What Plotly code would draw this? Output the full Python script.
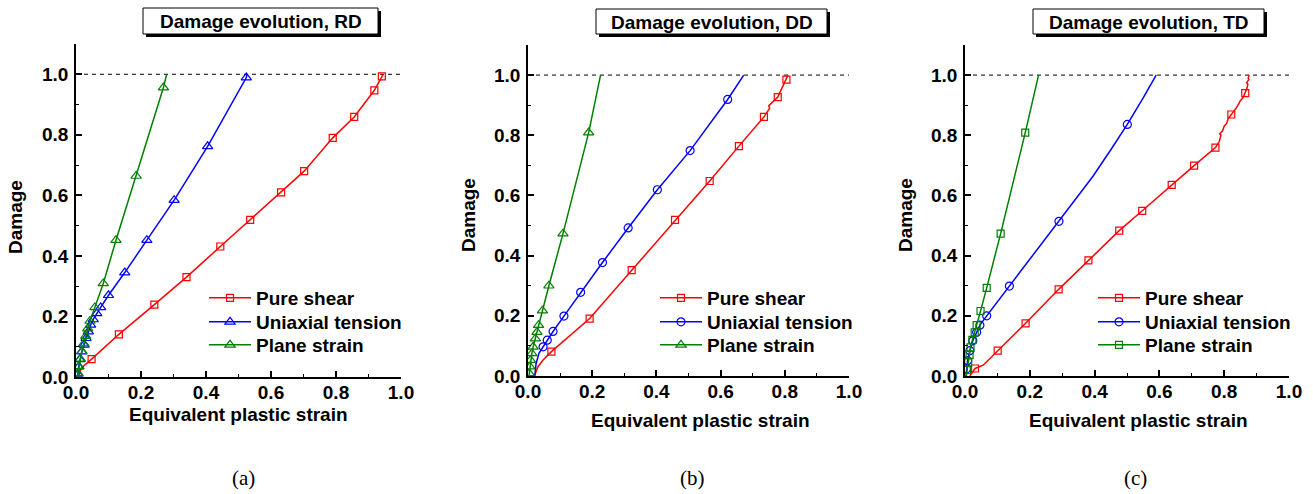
import plotly.graph_objects as go

W, H = 1313, 494

# ---------------- DATA ----------------
PANEL_TITLES = ["Damage evolution, RD", "Damage evolution, DD", "Damage evolution, TD"]
PANEL_CAPTIONS = ["(a)", "(b)", "(c)"]
SERIES_NAMES = ["Pure shear", "Uniaxial tension", "Plane strain"]
X_TICKS = [0.0, 0.2, 0.4, 0.6, 0.8, 1.0]
Y_TICKS = [0.0, 0.2, 0.4, 0.6, 0.8, 1.0]
FAILURE_DAMAGE = 1.0

# RD panel
RD_SHEAR_LX = [0.010, 0.015, 0.048, 0.132, 0.241, 0.340, 0.444, 0.536, 0.631, 0.702, 0.790, 0.856, 0.918, 0.941, 0.945]
RD_SHEAR_LY = [0.005, 0.028, 0.059, 0.141, 0.239, 0.330, 0.431, 0.519, 0.610, 0.680, 0.790, 0.859, 0.947, 0.993, 1.000]
RD_SHEAR_MX = [0.048, 0.132, 0.241, 0.340, 0.444, 0.536, 0.631, 0.702, 0.790, 0.856, 0.918, 0.941]
RD_SHEAR_MY = [0.059, 0.141, 0.239, 0.330, 0.431, 0.519, 0.610, 0.680, 0.790, 0.859, 0.947, 0.993]

RD_UNI_LX = [0.004, 0.006, 0.008, 0.012, 0.018, 0.025, 0.031, 0.038, 0.045, 0.053, 0.064, 0.076, 0.100, 0.150, 0.218, 0.302, 0.405, 0.524, 0.526]
RD_UNI_LY = [0.000, 0.010, 0.034, 0.058, 0.084, 0.106, 0.128, 0.150, 0.172, 0.190, 0.210, 0.230, 0.270, 0.345, 0.452, 0.584, 0.762, 0.989, 1.000]
RD_UNI_MX = [0.006, 0.008, 0.012, 0.018, 0.025, 0.031, 0.038, 0.045, 0.053, 0.064, 0.076, 0.100, 0.150, 0.218, 0.302, 0.405, 0.524]
RD_UNI_MY = [0.010, 0.034, 0.058, 0.084, 0.106, 0.128, 0.150, 0.172, 0.190, 0.210, 0.230, 0.270, 0.345, 0.452, 0.584, 0.762, 0.989]

RD_PS_LX = [0.004, 0.006, 0.009, 0.013, 0.018, 0.024, 0.030, 0.036, 0.043, 0.058, 0.084, 0.123, 0.185, 0.269, 0.279]
RD_PS_LY = [0.000, 0.012, 0.035, 0.060, 0.085, 0.110, 0.135, 0.160, 0.185, 0.230, 0.309, 0.452, 0.664, 0.956, 1.000]
RD_PS_MX = [0.006, 0.009, 0.013, 0.018, 0.024, 0.030, 0.036, 0.043, 0.058, 0.084, 0.123, 0.185, 0.269]
RD_PS_MY = [0.012, 0.035, 0.060, 0.085, 0.110, 0.135, 0.160, 0.185, 0.230, 0.309, 0.452, 0.664, 0.956]

# DD panel
DD_SHEAR_LX = [0.020, 0.031, 0.047, 0.073, 0.192, 0.323, 0.458, 0.566, 0.657, 0.735, 0.753, 0.750, 0.778, 0.805, 0.810]
DD_SHEAR_LY = [0.000, 0.031, 0.053, 0.081, 0.191, 0.352, 0.519, 0.648, 0.764, 0.861, 0.890, 0.898, 0.927, 0.985, 1.000]
DD_SHEAR_MX = [0.073, 0.192, 0.323, 0.458, 0.566, 0.657, 0.735, 0.778, 0.805]
DD_SHEAR_MY = [0.081, 0.191, 0.352, 0.519, 0.648, 0.764, 0.861, 0.927, 0.985]

DD_UNI_LX = [0.021, 0.025, 0.034, 0.047, 0.060, 0.078, 0.112, 0.164, 0.232, 0.312, 0.403, 0.505, 0.622, 0.672]
DD_UNI_LY = [0.000, 0.040, 0.075, 0.097, 0.119, 0.148, 0.199, 0.278, 0.377, 0.492, 0.619, 0.749, 0.919, 1.000]
DD_UNI_MX = [0.047, 0.060, 0.078, 0.112, 0.164, 0.232, 0.312, 0.403, 0.505, 0.622]
DD_UNI_MY = [0.097, 0.119, 0.148, 0.199, 0.278, 0.377, 0.492, 0.619, 0.749, 0.919]

DD_PS_LX = [0.003, 0.004, 0.006, 0.008, 0.012, 0.016, 0.023, 0.028, 0.033, 0.045, 0.065, 0.109, 0.189, 0.226]
DD_PS_LY = [0.000, 0.009, 0.031, 0.053, 0.075, 0.097, 0.124, 0.146, 0.169, 0.217, 0.300, 0.473, 0.809, 1.000]
DD_PS_MX = [0.004, 0.006, 0.008, 0.012, 0.016, 0.023, 0.028, 0.033, 0.045, 0.065, 0.109, 0.189]
DD_PS_MY = [0.009, 0.031, 0.053, 0.075, 0.097, 0.124, 0.146, 0.169, 0.217, 0.300, 0.473, 0.809]

# TD panel
TD_SHEAR_LX = [0.015, 0.031, 0.056, 0.101, 0.187, 0.289, 0.381, 0.476, 0.547, 0.638, 0.707, 0.773, 0.785, 0.790, 0.786,
               0.795, 0.800, 0.808, 0.812, 0.822, 0.830, 0.838, 0.845, 0.850, 0.858, 0.865, 0.870, 0.873, 0.869, 0.876, 0.874, 0.877]
TD_SHEAR_LY = [0.000, 0.025, 0.036, 0.084, 0.175, 0.288, 0.384, 0.483, 0.549, 0.635, 0.699, 0.759, 0.780, 0.800, 0.805,
               0.815, 0.830, 0.840, 0.855, 0.869, 0.880, 0.892, 0.905, 0.915, 0.925, 0.940, 0.955, 0.970, 0.975, 0.985, 0.990, 1.000]
TD_SHEAR_MX = [0.031, 0.101, 0.187, 0.289, 0.381, 0.476, 0.547, 0.638, 0.707, 0.773, 0.822, 0.865]
TD_SHEAR_MY = [0.025, 0.084, 0.175, 0.288, 0.384, 0.483, 0.549, 0.635, 0.699, 0.759, 0.869, 0.940]

TD_UNI_LX = [0.003, 0.005, 0.008, 0.015, 0.024, 0.036, 0.046, 0.067, 0.137, 0.290, 0.340, 0.395, 0.450, 0.501, 0.550, 0.590]
TD_UNI_LY = [0.000, 0.024, 0.051, 0.084, 0.117, 0.145, 0.169, 0.200, 0.299, 0.514, 0.584, 0.664, 0.752, 0.836, 0.924, 1.000]
TD_UNI_MX = [0.005, 0.008, 0.015, 0.024, 0.036, 0.046, 0.067, 0.137, 0.290, 0.501]
TD_UNI_MY = [0.024, 0.051, 0.084, 0.117, 0.145, 0.169, 0.200, 0.299, 0.514, 0.836]

TD_PS_LX = [0.004, 0.006, 0.010, 0.014, 0.017, 0.023, 0.030, 0.036, 0.048, 0.067, 0.110, 0.186, 0.227]
TD_PS_LY = [0.000, 0.020, 0.045, 0.070, 0.095, 0.120, 0.145, 0.169, 0.216, 0.293, 0.473, 0.809, 1.000]
TD_PS_MX = [0.006, 0.010, 0.014, 0.017, 0.023, 0.030, 0.036, 0.048, 0.067, 0.110, 0.186]
TD_PS_MY = [0.020, 0.045, 0.070, 0.095, 0.120, 0.145, 0.169, 0.216, 0.293, 0.473, 0.809]

# ---------------- STYLE / LAYOUT ----------------
COLORS = ["#FF0000", "#0000FF", "#008000"]
SYMBOLS = [
    ["square-open", "triangle-up-open", "triangle-up-open"],
    ["square-open", "circle-open", "triangle-up-open"],
    ["square-open", "circle-open", "square-open"],
]
MSIZE = {"square-open": 7, "triangle-up-open": 9, "circle-open": 8}

PANELS = [
    [(RD_SHEAR_LX, RD_SHEAR_LY, RD_SHEAR_MX, RD_SHEAR_MY),
     (RD_UNI_LX, RD_UNI_LY, RD_UNI_MX, RD_UNI_MY),
     (RD_PS_LX, RD_PS_LY, RD_PS_MX, RD_PS_MY)],
    [(DD_SHEAR_LX, DD_SHEAR_LY, DD_SHEAR_MX, DD_SHEAR_MY),
     (DD_UNI_LX, DD_UNI_LY, DD_UNI_MX, DD_UNI_MY),
     (DD_PS_LX, DD_PS_LY, DD_PS_MX, DD_PS_MY)],
    [(TD_SHEAR_LX, TD_SHEAR_LY, TD_SHEAR_MX, TD_SHEAR_MY),
     (TD_UNI_LX, TD_UNI_LY, TD_UNI_MX, TD_UNI_MY),
     (TD_PS_LX, TD_PS_LY, TD_PS_MX, TD_PS_MY)],
]

# plot-area pixel boxes (left, right, top, bottom)
AREAS = [(76, 401, 44, 377), (528, 849, 45, 376), (965, 1289, 45, 376)]
TITLE_BOXES = [(143, 378, 8, 34), (596, 827, 9, 34), (1033, 1264, 9, 34)]
XTITLE_POS = [(238, 414), (700, 420), (1138, 420)]
YTITLE_POS = [(15, 217), (468, 215), (905, 215)]
CAPTION_POS = [(243, 478), (692, 478), (1135, 478)]
LEGEND_X = [204, 655, 1093]
LEGEND_ROWS = [298, 322, 345]

SANS = "Liberation Sans, Arial, sans-serif"
FS = 19


def px(x):
    return x / W


def py(y):
    return 1 - y / H


fig = go.Figure()
layout = dict(
    width=W, height=H, margin=dict(l=0, r=0, t=0, b=0, autoexpand=False),
    plot_bgcolor="white", paper_bgcolor="white",
    font=dict(family=SANS, size=FS, color="black"),
    showlegend=True,
)
shapes, annotations = [], []
legend_count = 0

for p in range(3):
    sfx = "" if p == 0 else str(p + 1)
    xa, ya = "x" + sfx, "y" + sfx
    l, r, t, b = AREAS[p]
    axis_common = dict(
        showline=True, linewidth=1.5, linecolor="black", mirror=False,
        showgrid=False, zeroline=False,
        ticks="inside", ticklen=6, tickwidth=1.5, tickcolor="black",
        tickformat=".1f",
        tickfont=dict(family=SANS, size=FS, color="black", weight="bold"),
        minor=dict(ticks="inside", ticklen=3, tickwidth=1.2, tickcolor="black", dtick=0.1),
        fixedrange=True,
    )
    layout["xaxis" + sfx] = dict(axis_common, domain=[px(l), px(r)], range=[0, 1.0],
                                 tickvals=X_TICKS, anchor=ya, ticklabelstandoff=-3)
    layout["yaxis" + sfx] = dict(axis_common, domain=[py(b), py(t)], range=[0, 1.1],
                                 tickvals=Y_TICKS, anchor=xa, ticklabelstandoff=2)

    for s in range(3):
        LX, LY, MX, MY = PANELS[p][s]
        sym = SYMBOLS[p][s]
        col = COLORS[s]
        fig.add_trace(go.Scatter(x=LX, y=LY, mode="lines", line=dict(color=col, width=1.5),
                                 xaxis=xa, yaxis=ya, showlegend=False, hoverinfo="skip"))
        fig.add_trace(go.Scatter(x=MX, y=MY, mode="markers",
                                 marker=dict(symbol=sym, size=MSIZE[sym], color=col, line=dict(width=1.2, color=col)),
                                 xaxis=xa, yaxis=ya, showlegend=False))
    for s in range(3):
        sym = SYMBOLS[p][s]
        col = COLORS[s]
        legend_count += 1
        leg = "legend" if legend_count == 1 else "legend" + str(legend_count)
        layout[leg] = dict(x=px(LEGEND_X[p]), y=py(LEGEND_ROWS[s]), xanchor="left", yanchor="middle",
                           bgcolor="rgba(0,0,0,0)", borderwidth=0, itemwidth=42,
                           font=dict(family=SANS, size=FS, color="black", weight="bold"),
                           itemclick=False, itemdoubleclick=False)
        fig.add_trace(go.Scatter(x=[None], y=[None], mode="lines+markers", name=SERIES_NAMES[s],
                                 line=dict(color=col, width=1.5),
                                 marker=dict(symbol=sym, size=MSIZE[sym], color=col, line=dict(width=1.2, color=col)),
                                 xaxis=xa, yaxis=ya, legend=leg))

    # failure threshold
    shapes.append(dict(type="line", xref=xa, yref=ya, x0=0, x1=1.0, y0=FAILURE_DAMAGE, y1=FAILURE_DAMAGE,
                       line=dict(color="black", width=1, dash="4px,4px"), layer="below"))

    # title box with shadow
    bx0, bx1, by0, by1 = TITLE_BOXES[p]
    shapes.append(dict(type="rect", xref="paper", yref="paper",
                       x0=px(bx0 + 3), x1=px(bx1 + 3), y0=py(by1 + 3), y1=py(by0 + 3),
                       fillcolor="black", line=dict(width=0)))
    shapes.append(dict(type="rect", xref="paper", yref="paper",
                       x0=px(bx0), x1=px(bx1), y0=py(by1), y1=py(by0),
                       fillcolor="white", line=dict(color="black", width=1)))
    annotations.append(dict(text=PANEL_TITLES[p], xref="paper", yref="paper",
                            x=px((bx0 + bx1) / 2), y=py((by0 + by1) / 2 + 1), showarrow=False,
                            xanchor="center", yanchor="middle",
                            font=dict(family=SANS, size=FS, color="black", weight="bold")))
    tx, ty = XTITLE_POS[p]
    annotations.append(dict(text="Equivalent plastic strain", xref="paper", yref="paper",
                            x=px(tx), y=py(ty), showarrow=False, xanchor="center", yanchor="middle",
                            font=dict(family=SANS, size=FS, color="black", weight="bold")))
    yx, yy = YTITLE_POS[p]
    annotations.append(dict(text="Damage", xref="paper", yref="paper", textangle=-90,
                            x=px(yx), y=py(yy), showarrow=False, xanchor="center", yanchor="middle",
                            font=dict(family=SANS, size=FS, color="black", weight="bold")))
    cx, cy = CAPTION_POS[p]
    annotations.append(dict(text=PANEL_CAPTIONS[p], xref="paper", yref="paper",
                            x=px(cx), y=py(cy), showarrow=False, xanchor="center", yanchor="middle",
                            font=dict(family="Liberation Serif, Times New Roman, serif", size=21, color="black")))

layout["shapes"] = shapes
layout["annotations"] = annotations
fig.update_layout(**layout)
fig.write_html("out.html", config={"displayModeBar": False},
               post_script="document.body.style.margin='0px';")
